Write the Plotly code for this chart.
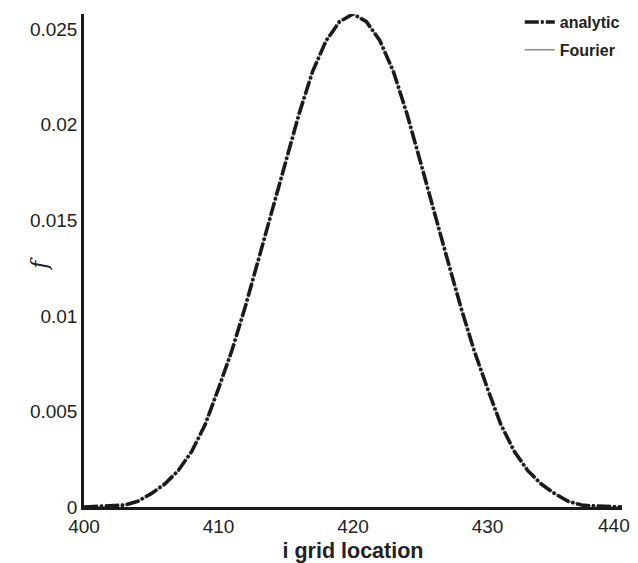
import plotly.graph_objects as go

i_grid = list(range(400, 441))
f_analytic = [
    0.0, 0.00002, 0.00005, 0.0001, 0.0003, 0.0007, 0.0012, 0.0019, 0.0029, 0.0043,
    0.0062, 0.0082, 0.0105, 0.0130, 0.0155, 0.0181, 0.0206, 0.0228, 0.0244, 0.0254,
    0.0258,
    0.0254, 0.0244, 0.0228, 0.0206, 0.0181, 0.0155, 0.0130, 0.0105, 0.0082, 0.0062,
    0.0043, 0.0029, 0.0019, 0.0012, 0.0007, 0.0003, 0.0001, 0.00005, 0.00002, 0.0,
]
f_fourier = list(f_analytic)

x_ticks = [400, 410, 420, 430, 440]
x_tick_text = ["400", "410", "420", "430", "440"]
y_ticks = [0, 0.005, 0.01, 0.015, 0.02, 0.025]
y_tick_text = ["0", "0.005", "0.01", "0.015", "0.02", "0.025"]

FONT = "Liberation Sans, Arial, Helvetica, sans-serif"

fig = go.Figure()
fig.add_trace(go.Scatter(
    x=i_grid, y=f_fourier, mode="lines", name="<b>Fourier</b>",
    line=dict(color="#8a8a8a", width=1.5), legendrank=2, legendgroup="b",
))
fig.add_trace(go.Scatter(
    x=i_grid, y=f_analytic, mode="lines", name="<b>analytic</b>",
    line=dict(color="#1a1a1a", width=3.6, dash="14px,2px,3px,2px"),
    legendrank=1, legendgroup="a",
))

fig.update_layout(
    width=630, height=555,
    margin=dict(l=76, r=16, t=6, b=56, autoexpand=False),
    paper_bgcolor="white", plot_bgcolor="white",
    font=dict(family=FONT, size=19, color="#222"),
    showlegend=True,
    legend=dict(
        x=0.81, xanchor="left", y=1.018, yanchor="top",
        font=dict(size=16, color="#222"), bgcolor="rgba(0,0,0,0)",
        tracegroupgap=4,
    ),
    xaxis=dict(
        range=[400, 440], tickvals=x_ticks[:-1], ticktext=x_tick_text[:-1], ticks="",
        showgrid=False, zeroline=False,
        showline=True, linecolor="#1a1a1a", linewidth=2.5, automargin=False,
        tickfont=dict(size=19, color="#222"),
        title=dict(text="<b>i grid location</b>", font=dict(size=21.5, color="#222"), standoff=10),
    ),
    yaxis=dict(
        range=[0, 0.0258], tickvals=y_ticks, ticktext=y_tick_text, ticks="",
        showgrid=False, zeroline=False, automargin=False,
        showline=True, linecolor="#1a1a1a", linewidth=2.5,
        tickfont=dict(size=19, color="#222"),
    ),
    annotations=[
        dict(
            text="<i>f</i>", xref="paper", yref="paper", x=-0.082, y=0.493,
            xanchor="center", yanchor="middle", textangle=-90, showarrow=False,
            font=dict(size=22, family="DejaVu Serif, serif", color="#222"),
        ),
        dict(
            text=x_tick_text[-1], xref="x", yref="paper", x=x_ticks[-1], y=0,
            xanchor="center", yanchor="top", xshift=-8, yshift=-6, showarrow=False,
            font=dict(size=19, color="#222"),
        ),
    ],
)

fig.write_html("out.html")
